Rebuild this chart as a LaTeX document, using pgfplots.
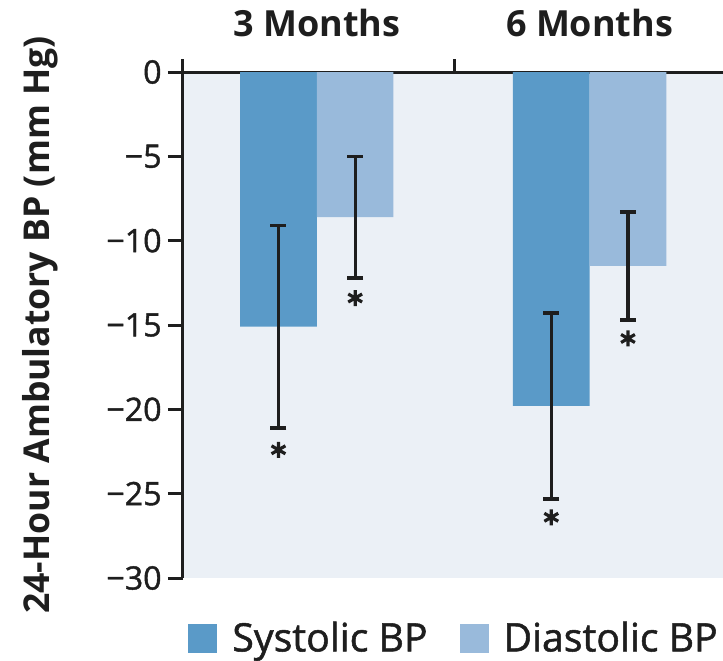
\documentclass[border=0pt]{standalone}
\usepackage{fontspec}
\setmainfont{Open Sans}
\newfontface\medium[FakeBold=1.3]{Open Sans}
\usepackage{pgfplots}
\pgfplotsset{compat=1.18}

\definecolor{sysblue}{HTML}{5A9AC8}
\definecolor{diablue}{HTML}{99BADB}
\definecolor{panel}{HTML}{EBF0F6}
\definecolor{ink}{HTML}{1E1E1E}

\begin{document}
\begin{tikzpicture}
\begin{axis}[
  scale only axis, width=272pt, height=253pt,
  xmin=0, xmax=2, ymin=-30, ymax=0,
  enlargelimits=false,
  axis x line*=top, axis y line*=left,
  axis line style={ink, line width=1.5pt},
  axis background/.style={fill=panel},
  tick align=outside,
  every tick/.style={ink, line width=1.5pt},
  major tick length=7.5pt,
  minor tick length=6.5pt,
  xtick={0.492,1.495},
  xticklabels={3 Months,6 Months},
  major x tick style={draw=none},
  minor xtick={0,1,2},
  xticklabel style={font=\bfseries\fontsize{18}{21}\selectfont, text=ink, anchor=south, inner sep=0pt, yshift=10pt},
  ytick={0,-5,-10,-15,-20,-25,-30},
  yticklabels={0,−5,−10,−15,−20,−25,−30},
  yticklabel style={font=\medium\fontsize{16.1}{19}\selectfont, text=ink, inner sep=0pt, xshift=-3pt},
  ylabel={24-Hour Ambulatory BP (mm Hg)},
  every axis y label/.style={at={(axis description cs:-0.263,0.5)}, rotate=90, anchor=center,
    text=ink, font=\bfseries\fontsize{17.8}{21}\selectfont},
  legend style={at={([xshift=2.5pt,yshift=-30pt]axis description cs:0,0)}, anchor=west,
    draw=none, fill=none, inner sep=0pt, legend columns=2, text=ink,
    font=\medium\fontsize{19.6}{23}\selectfont, nodes={inner sep=0pt},
    /tikz/every even column/.append style={column sep=16pt}},
  legend cell align=left,
]

% change in 24-hour systolic BP, mean and error
\addplot[ybar, bar width=0.2816, bar shift=0, fill=sysblue, draw=none,
  legend image code/.code={\fill[sysblue] (0pt,-7.25pt) rectangle (14.5pt,7.25pt); \path (22pt,0pt);},
  error bars/.cd, y dir=both, y explicit,
  error bar style={ink, line width=1.6pt},
  error mark options={rotate=90, ink, line width=1.8pt, mark size=4pt}]
  coordinates {(0.351,-15.1) +- (0,6.0) (1.354,-19.8) +- (0,5.5)};
\addlegendentry{Systolic BP}

% change in 24-hour diastolic BP, mean and error
\addplot[ybar, bar width=0.2816, bar shift=0, fill=diablue, draw=none,
  legend image code/.code={\fill[diablue] (0pt,-7.25pt) rectangle (14.5pt,7.25pt); \path (22pt,0pt);},
  error bars/.cd, y dir=both, y explicit,
  error bar style={ink, line width=1.6pt},
  error mark options={rotate=90, ink, line width=1.8pt, mark size=4pt}]
  coordinates {(0.633,-8.6) +- (0,3.6) (1.636,-11.5) +- (0,3.2)};
\addlegendentry{Diastolic BP}

% significance markers
\addplot[only marks, mark=asterisk, mark size=4pt, mark options={ink, line width=1.6pt}, forget plot]
  coordinates {(0.351,-22.4) (0.633,-13.4) (1.354,-26.4) (1.636,-15.8)};
\end{axis}
\pgfresetboundingbox
\useasboundingbox (-91.5pt,-41pt) rectangle (270pt,289pt);
\end{tikzpicture}
\end{document}
